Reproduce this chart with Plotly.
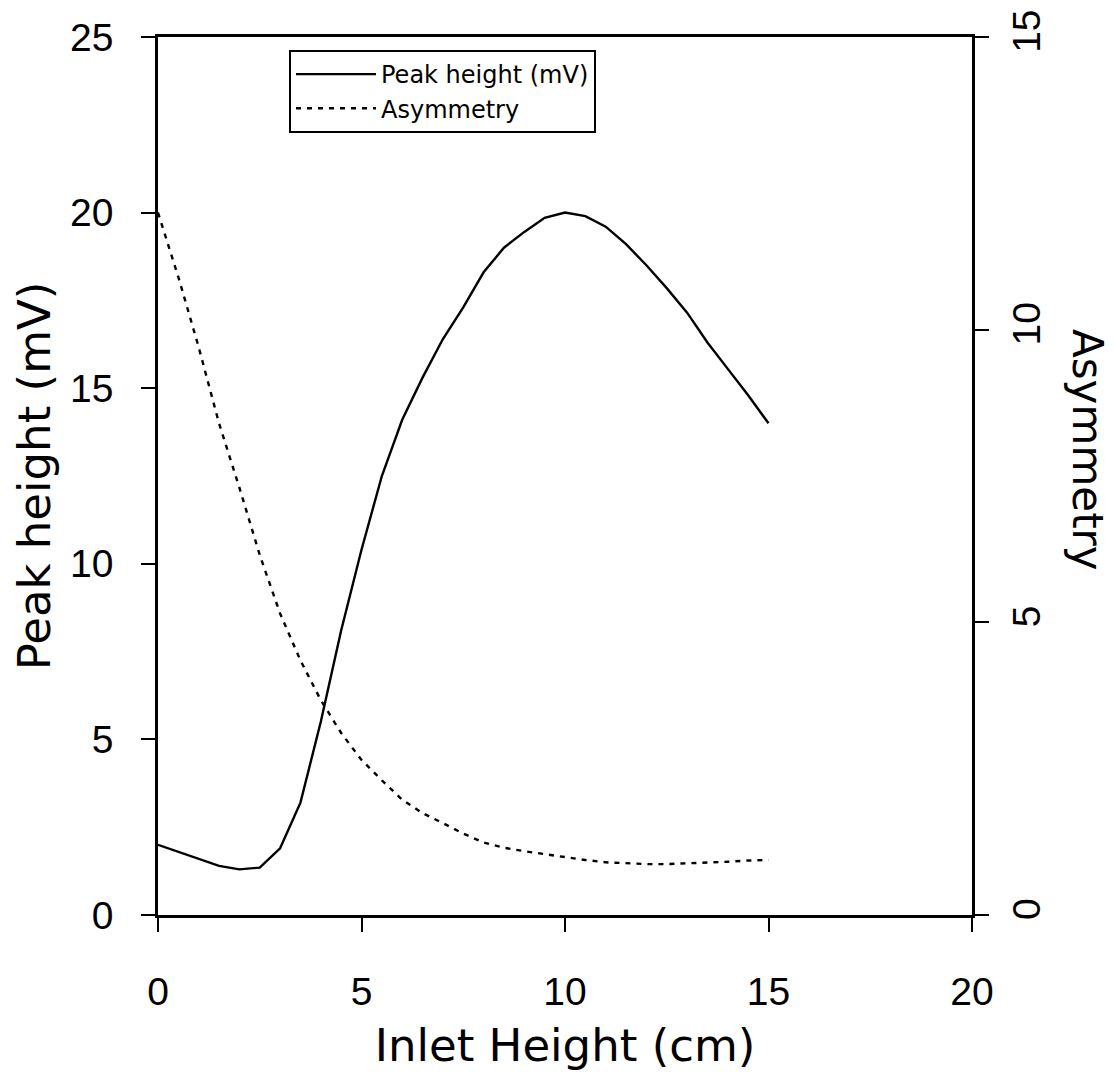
import plotly.graph_objects as go

# Inlet height (cm)
inlet_height = [0, 0.5, 1.0, 1.5, 2.0, 2.5, 3.0, 3.5, 4.0, 4.5, 5.0, 5.5, 6.0, 6.5, 7.0,
                7.5, 8.0, 8.5, 9.0, 9.5, 10.0, 10.5, 11.0, 11.5, 12.0, 12.5, 13.0,
                13.5, 14.0, 14.5, 15.0]

# Peak height (mV) - left axis
peak_height = [2.0, 1.8, 1.6, 1.4, 1.3, 1.35, 1.9, 3.2, 5.5, 8.1, 10.4, 12.5, 14.1,
               15.3, 16.4, 17.3, 18.3, 19.0, 19.45, 19.85, 20.0, 19.9, 19.6, 19.1,
               18.5, 17.85, 17.15, 16.3, 15.55, 14.8, 14.0]

# Asymmetry - right axis
asymmetry = [12.0, 10.9, 9.7, 8.4, 7.3, 6.15, 5.15, 4.35, 3.67, 3.11, 2.65, 2.3, 1.97,
             1.74, 1.57, 1.39, 1.24, 1.15, 1.09, 1.04, 0.98, 0.94, 0.9, 0.88, 0.87,
             0.87, 0.88, 0.9, 0.91, 0.93, 0.94]

x_ticks = [0, 5, 10, 15, 20]
y_ticks = [0, 5, 10, 15, 20, 25]
y2_ticks = [0, 5, 10, 15]

TICK_FONT = dict(family="Liberation Sans", size=39, color="black")
TITLE_FONT = dict(family="DejaVu Sans", size=45, color="black")

# page body adds ~8px offset; plot area in page pixels: x 158..972, y 37..915
W, H = 1105, 1064
L, T = 150, 29
PW, PH = 814, 878

fig = go.Figure()
fig.add_trace(go.Scatter(
    x=inlet_height, y=peak_height, mode="lines", name="Peak height (mV)",
    line=dict(color="black", width=2.4), yaxis="y"))
fig.add_trace(go.Scatter(
    x=inlet_height, y=asymmetry, mode="lines", name="Asymmetry",
    line=dict(color="black", width=2.4, dash="5px,6px"), yaxis="y2"))

fig.update_layout(
    width=W, height=H,
    margin=dict(l=L, r=W - L - PW, t=T, b=H - T - PH, autoexpand=False),
    paper_bgcolor="white", plot_bgcolor="white",
    showlegend=True,
    legend=dict(
        x=(289 - 158) / PW, y=(915 - 50) / PH, xanchor="left", yanchor="top",
        bgcolor="white", bordercolor="black", borderwidth=2,
        font=dict(family="DejaVu Sans", size=24, color="black"),
        itemwidth=80, tracegroupgap=0,
    ),
    xaxis=dict(
        range=[0, 20], tickvals=x_ticks, ticktext=[str(v) for v in x_ticks],
        showline=True, linecolor="black", linewidth=2.5, mirror=True,
        ticks="outside", ticklen=14, tickwidth=2, tickcolor="black",
        tickfont=TICK_FONT, ticklabelstandoff=26,
        showgrid=False, zeroline=False,
        title=dict(text="Inlet Height (cm)", font=TITLE_FONT, standoff=33),
    ),
    yaxis=dict(
        range=[0, 25], tickvals=y_ticks, ticktext=[str(v) for v in y_ticks],
        showline=True, linecolor="black", linewidth=2.5,
        ticks="outside", ticklen=14, tickwidth=2, tickcolor="black",
        tickfont=TICK_FONT, ticklabelstandoff=20,
        showgrid=False, zeroline=False,
        title=dict(text="Peak height (mV)", font=TITLE_FONT, standoff=18),
    ),
    yaxis2=dict(
        range=[0, 15], tickvals=y2_ticks, ticktext=[str(v) for v in y2_ticks],
        overlaying="y", side="right",
        showline=True, linecolor="black", linewidth=2.5,
        ticks="outside", ticklen=14, tickwidth=2, tickcolor="black",
        tickfont=TICK_FONT, tickangle=-90, ticklabelstandoff=4,
        showgrid=False, zeroline=False,
    ),
    annotations=[dict(
        text="Asymmetry", xref="paper", yref="paper",
        x=(1088 - 158) / PW, y=(915 - 450) / PH,
        xanchor="center", yanchor="middle", textangle=90,
        showarrow=False, font=dict(family="DejaVu Sans", size=42, color="black"),
    )],
)

fig.write_html("out.html")
